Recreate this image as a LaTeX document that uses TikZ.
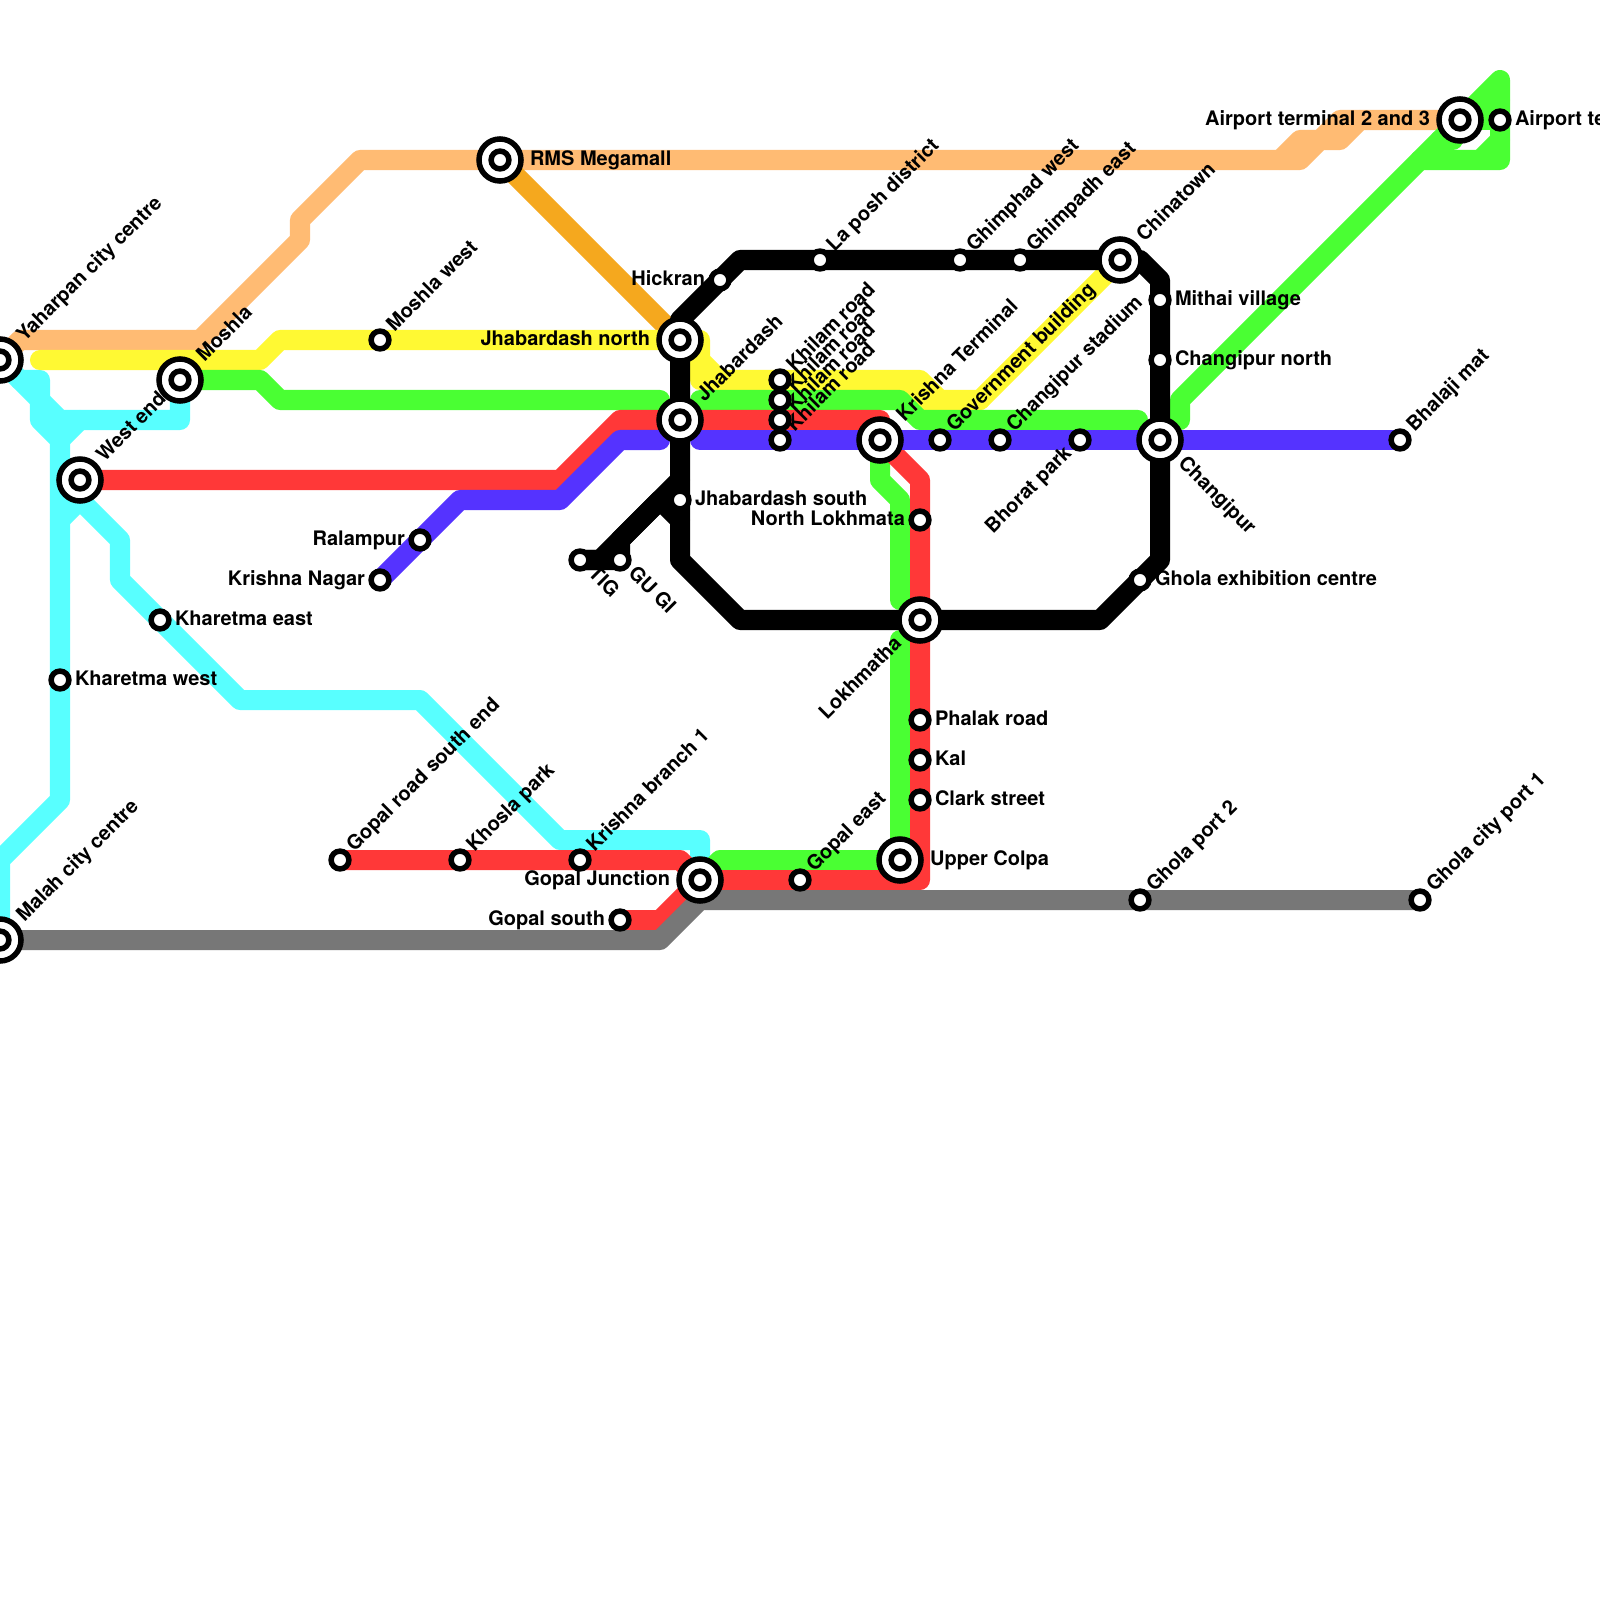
\documentclass[tikz,border=0pt]{standalone}
\usepackage{fontspec}
\setmainfont{TeX Gyre Heros}
\pgfdeclarelayer{lines}
\pgfdeclarelayer{labs}
\pgfsetlayers{lines,labs,main}
\definecolor{lcyan}{HTML}{58FFFF}
\definecolor{lred}{HTML}{FF3838}
\definecolor{lgreen}{HTML}{4AFF33}
\definecolor{lyellow}{HTML}{FFF933}
\definecolor{lpeach}{HTML}{FFBB73}
\definecolor{lamber}{HTML}{F5A81E}
\definecolor{lblue}{HTML}{5533FF}
\definecolor{lgray}{HTML}{777777}
\tikzset{
  metro/.style={line width=0.2cm,line cap=round,line join=round},
  stn/.style={circle,draw=black,fill=white,line width=0.055cm,minimum size=0.178cm,inner sep=0pt,outer sep=0pt},
  ring/.style={circle,draw=black,fill=white,line width=0.055cm,minimum size=0.42cm,inner sep=0pt,outer sep=0pt},
  lbl/.style={inner sep=0pt,outer sep=0pt,text height=0.14cm,text depth=0.04cm,text=black,font=\fontsize{5.69pt}{7pt}\selectfont\bfseries},
}
% station helpers
\newcommand\st[3]{\node[stn] (#1) at (#2,#3) {};}
\newcommand\ic[3]{\node[ring] (#1) at (#2,#3) {};\node[stn] (#1-c) at (#1.center) {};}
% labels: R right, L left, U up-right, D down-left, V down-right; small and ring offsets
\newcommand\lR[3]{\node[lbl,anchor=west] (#1-l) at ([xshift=#3*0.01cm]#1.center) {#2};}
\newcommand\lL[3]{\node[lbl,anchor=east] (#1-l) at ([xshift=-#3*0.01cm]#1.center) {#2};}
\newcommand\lU[3]{\node[lbl,anchor=west,rotate=45] (#1-l) at ([xshift=#3*0.01cm,yshift=#3*0.01cm]#1.center) {#2};}
\newcommand\lD[3]{\node[lbl,anchor=east,rotate=45] (#1-l) at ([xshift=-#3*0.01cm,yshift=-#3*0.01cm]#1.center) {#2};}
\newcommand\lV[3]{\node[lbl,anchor=west,rotate=-45] (#1-l) at ([xshift=#3*0.01cm,yshift=-#3*0.01cm]#1.center) {#2};}
\begin{document}
\begin{tikzpicture}[x=0.01cm,y=-0.01cm]
\useasboundingbox (0,0) rectangle (1600,1600);
\clip (0,0) rectangle (1600,1600);
% stations
\ic{yah}{0}{360}\ic{mos}{180}{380}\ic{wes}{80}{480}\ic{mal}{0}{940}
\ic{rms}{500}{160}\ic{jno}{680}{340}\ic{jha}{680}{420}\ic{chi}{1120}{260}
\ic{kri}{880}{440}\ic{cha}{1160}{440}\ic{lok}{920}{620}\ic{upp}{900}{860}
\ic{gju}{700}{880}\ic{air}{1460}{120}
\st{mow}{380}{340}\st{hic}{720}{280}\st{lap}{820}{260}\st{gwe}{960}{260}\st{gea}{1020}{260}
\st{mit}{1160}{300}\st{cno}{1160}{360}
\st{kha}{780}{380}\st{khb}{780}{400}\st{khc}{780}{420}\st{khd}{780}{440}
\st{gov}{940}{440}\st{sta}{1000}{440}\st{bho}{1080}{440}\st{bha}{1400}{440}
\st{jso}{680}{500}\st{nlo}{920}{520}\st{pha}{920}{720}\st{kal}{920}{760}\st{cla}{920}{800}
\st{exh}{1140}{580}\st{gp2}{1140}{900}\st{gp1}{1420}{900}
\st{ket}{160}{620}\st{kwe}{60}{680}\st{ral}{420}{540}\st{kna}{380}{580}
\st{tig}{580}{560}\st{gug}{620}{560}
\st{gre}{340}{860}\st{kho}{460}{860}\st{kbr}{580}{860}\st{gso}{620}{920}\st{gea2}{800}{880}
\st{ate}{1500}{120}
% lines
\begin{pgfonlayer}{lines}
\fill[white] (0,0) rectangle (1600,1600);
\begin{scope}[metro]
% cyan
\draw[lcyan] (yah.center) -- (40,400) -- (60,420) -- (180,420) -- (mos.center);
\draw[lcyan] (20,380) -- (40,380) -- (40,420) -- (60,440) -- (60,800) -- (0,860) -- (mal.center);
\draw[lcyan] (60,440) -- (80,420);
\draw[lcyan] (60,520) -- (80,500) -- (wes.center);
\draw[lcyan] (80,500) -- (120,540) -- (120,580) -- (240,700) -- (420,700) -- (560,840) -- (700,840) -- (gju.center);
% peach
\draw[lpeach] (yah.center) -- (20,340) -- (200,340) -- (300,240) -- (300,220) -- (360,160) -- (1300,160) -- (1320,140) -- (1340,140) -- (1360,120) -- (air.center);
\draw[lpeach] (1280,160) -- (1300,140) -- (1320,140) -- (1340,120) -- (1360,120);
% amber
\draw[lamber] (rms.center) -- (jno.center);
% yellow
\draw[lyellow] (40,360) -- (260,360) -- (280,340) -- (700,340) -- (700,360) -- (720,380) -- (920,380) -- (940,400) -- (980,400) -- (chi.center);
\draw[lyellow] (700,360) -- (700,380) -- (720,380);
\draw[lyellow] (900,400) -- (980,400);
% green
\draw[lgreen] (mos.center) -- (260,380) -- (280,400) -- (660,400);
\draw[lgreen] (700,400) -- (900,400) -- (920,420) -- (1138,420);
\draw[lgreen] (kri.center) -- (880,480) -- (900,500) -- (900,600);
\draw[lgreen] (900,640) -- (upp.center) -- (720,860) -- (gju.center);
\draw[lgreen] (1180,420) -- (1180,400) -- (1420,160) -- (air.center);
\draw[lgreen] (1420,160) -- (1500,160) -- (ate.center) -- (1500,80) -- (air.center);
\draw[lgreen] (1480,160) -- (1500,140);
\draw[lgreen] (air.center) -- (ate.center);
\draw[lgreen] (1480,120) -- (1500,100);
\draw[lgreen] (1440,140) -- (1453,140);
% red
\draw[lred] (wes.center) -- (560,480) -- (620,420) -- (880,420) -- (kri.center) -- (920,480) -- (920,880) -- (gju.center);
\draw[lred] (gre.center) -- (680,860) -- (gju.center) -- (660,920) -- (gso.center);
% blue
\draw[lblue] (kna.center) -- (460,500) -- (560,500) -- (620,440) -- (660,440);
\draw[lblue] (700,440) -- (bha.center);
% gray
\draw[lgray] (mal.center) -- (660,940) -- (700,900) -- (gp1.center);
% black
\draw[black] (jno.center) -- (680,320) -- (740,260) -- (1140,260) -- (1160,280) -- (1160,560) -- (1100,620) -- (740,620) -- (680,560) -- cycle;
\draw[black] (tig.center) -- (600,560) -- (680,480);
\draw[black] (tig.center) -- (gug.center) -- (620,540) -- (660,500) -- (680,520);
\end{scope}
\end{pgfonlayer}
% labels
\begin{pgfonlayer}{labs}
\lU{yah}{Yaharpan city centre}{21}
\lU{mos}{Moshla}{21}
\lU{wes}{West end}{21}
\lU{mal}{Malah city centre}{21}
\lR{rms}{RMS Megamall}{30}
\lL{jno}{Jhabardash north}{30}
\lU{jha}{Jhabardash}{21}
\lU{chi}{Chinatown}{21}
\lU{kri}{Krishna Terminal}{21}
\lV{cha}{Changipur}{21}
\lD{lok}{Lokhmatha}{21}
\lR{upp}{Upper Colpa}{30}
\lL{gju}{Gopal Junction}{30}
\lL{air}{Airport terminal 2 and 3}{30}
\lU{mow}{Moshla west}{11}
\lL{hic}{Hickran}{15}
\lU{lap}{La posh district}{11}
\lU{gwe}{Ghimphad west}{11}
\lU{gea}{Ghimpadh east}{11}
\lR{mit}{Mithai village}{15}
\lR{cno}{Changipur north}{15}
\lU{kha}{Khilam road}{11}
\lU{khb}{Khilam road}{11}
\lU{khc}{Khilam road}{11}
\lU{khd}{Khilam road}{11}
\lU{gov}{Government building}{11}
\lU{sta}{Changipur stadium}{11}
\lD{bho}{Bhorat park}{11}
\lU{bha}{Bhalaji mat}{11}
\lR{jso}{Jhabardash south}{15}
\lL{nlo}{North Lokhmata}{15}
\lR{pha}{Phalak road}{15}
\lR{kal}{Kal}{15}
\lR{cla}{Clark street}{15}
\lR{exh}{Ghola exhibition centre}{15}
\lU{gp2}{Ghola port 2}{11}
\lU{gp1}{Ghola city port 1}{11}
\lR{ket}{Kharetma east}{15}
\lR{kwe}{Kharetma west}{15}
\lL{ral}{Ralampur}{15}
\lL{kna}{Krishna Nagar}{15}
\lV{tig}{TIG}{11}
\lV{gug}{GU GI}{11}
\lU{gre}{Gopal road south end}{11}
\lU{kho}{Khosla park}{11}
\lU{kbr}{Krishna branch 1}{11}
\lL{gso}{Gopal south}{15}
\lU{gea2}{Gopal east}{11}
\lR{ate}{Airport terminal 1}{15}
\end{pgfonlayer}
\end{tikzpicture}
\end{document}
